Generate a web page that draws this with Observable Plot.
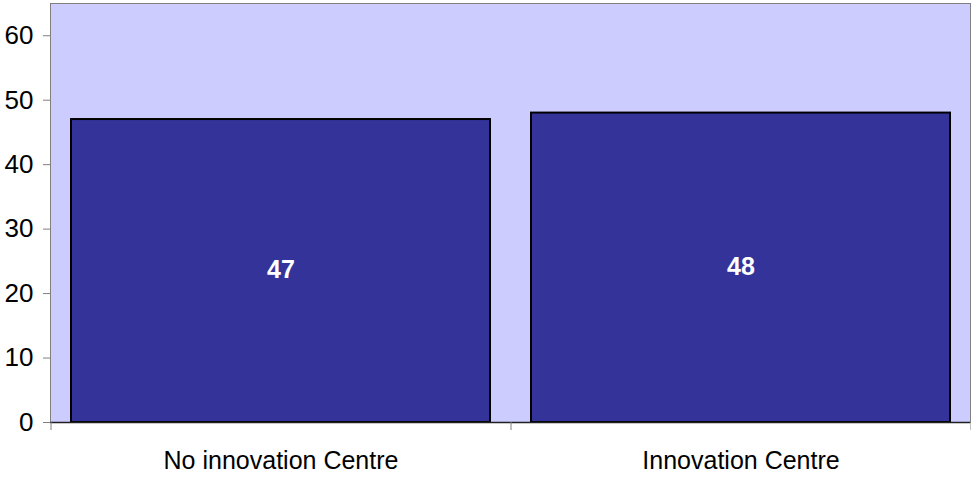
<!DOCTYPE html>
<html>
<head>
<meta charset="utf-8">
<script src="https://cdn.jsdelivr.net/npm/d3@7"></script>
<script src="https://cdn.jsdelivr.net/npm/@observablehq/plot@0.6"></script>
<style>
  html, body { margin: 0; padding: 0; background: #fff; }
  #chart { width: 971px; height: 477px; }
  svg { display: block; }
</style>
</head>
<body>
<div id="chart"></div>
<script>
const categories = ["No innovation Centre", "Innovation Centre"];
const values = [47, 48];
const yTicks = [0, 10, 20, 30, 40, 50, 60];

const data = categories.map((c, i) => ({category: c, value: values[i]}));

const W = 971, H = 477;
const mL = 50, mR = 1, mT = 3, mB = 55;
const step = (W - mL - mR) / categories.length;
const font = "'Liberation Sans', Arial, sans-serif";

const chart = Plot.plot({
  width: W,
  height: H,
  marginLeft: mL,
  marginRight: mR,
  marginTop: mT,
  marginBottom: mB,
  style: {fontFamily: font, fontSize: "25px", color: "#000", background: "#fff"},
  x: {domain: categories, paddingInner: 0.09, paddingOuter: 0.045, label: null},
  y: {domain: [0, 65], label: null},
  marks: [
    Plot.frame({fill: "#CCCCFF", stroke: "#808080"}),
    Plot.barY(data, {x: "category", y: "value", fill: "#333399", stroke: "#000", strokeWidth: 2}),
    Plot.ruleY([0], {stroke: "#202020", strokeWidth: 1.5}),
    Plot.axisY({ticks: yTicks, tickSize: 7, tickPadding: 10, stroke: "#808080", fill: "#000", fontSize: 26, label: null}),
    Plot.axisX({tickSize: 0, tickPadding: 29, fontSize: 25, fill: "#000", label: null}),
    Plot.axisX({tickSize: 8, stroke: "#808080", text: null, dx: -step / 2, label: null}),
    Plot.axisX({ticks: categories.slice(-1), tickSize: 8, stroke: "#808080", text: null, dx: step / 2, label: null}),
    Plot.text(data, {x: "category", y: d => d.value / 2, text: d => String(d.value), fill: "#fff", fontWeight: "bold", fontSize: 25, dy: -1})
  ]
});
document.getElementById("chart").appendChild(chart);
</script>
</body>
</html>
